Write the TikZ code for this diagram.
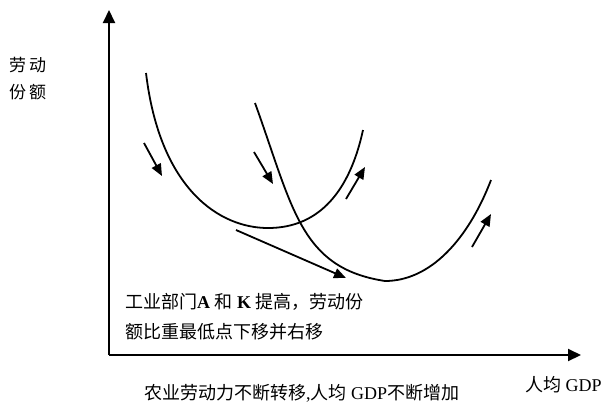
\documentclass[tikz,border=0pt]{standalone}
\usepackage{fontspec}
\setmainfont{Liberation Serif}
\newfontfamily\cjk{Noto Sans CJK SC}
\usetikzlibrary{arrows.meta}
\tikzset{
  axis/.style={line width=2pt,-{Triangle[length=13pt,width=12pt]}},
  curve/.style={line width=1.8pt},
  move/.style={line width=1.8pt,-{Triangle[length=12pt,width=10pt]}},
  lbl/.style={inner sep=0pt,font=\fontsize{18}{20}\selectfont},
  ylbl/.style={inner sep=0pt,font=\fontsize{17}{20}\selectfont},
}
\begin{document}
\begin{tikzpicture}[x=1pt,y=-1pt]
\fill[white] (0,0) rectangle (602,405);
\useasboundingbox (0,0) rectangle (602,405);
% axes
\coordinate (O) at (109,355);
\coordinate (ytip) at (109,10);
\coordinate (xtip) at (581,355);
\draw[axis] (O) -- (ytip);
\draw[axis] (O) -- (xtip);
% curves
\coordinate (c1s) at (146,73);
\coordinate (c1m) at (268,228);
\coordinate (c1e) at (363,130);
\draw[curve] (c1s) .. controls (160,190) and (220,228) .. (c1m)
  .. controls (320,228) and (350,190) .. (c1e);
\coordinate (c2s) at (255,103);
\coordinate (c2m) at (385,281);
\coordinate (c2e) at (491,180);
\draw[curve] (c2s) .. controls (293,208) and (300,268) .. (c2m)
  .. controls (430,281) and (468,240) .. (c2e);
% movement arrows
\coordinate (a1s) at (144,143); \coordinate (a1e) at (162,176);
\coordinate (a2s) at (254,152); \coordinate (a2e) at (273,184);
\coordinate (a3s) at (346,199); \coordinate (a3e) at (365,167);
\coordinate (a4s) at (472,247); \coordinate (a4e) at (491,214);
\coordinate (a5s) at (236,230); \coordinate (a5e) at (346,278);
\draw[move] (a1s) -- (a1e);
\draw[move] (a2s) -- (a2e);
\draw[move] (a3s) -- (a3e);
\draw[move] (a4s) -- (a4e);
\draw[move] (a5s) -- (a5e);
% labels
\node[ylbl,anchor=west] (yl1) at (9,65) {\cjk 劳\hspace{3pt}动};
\node[ylbl,anchor=west] (yl2) at (9,92) {\cjk 份\hspace{3pt}额};
\node[lbl,anchor=west] (b1) at (125,302) {{\cjk 工业部门}\textbf{A} {\cjk 和} \textbf{K} {\cjk 提高，劳动份}};
\node[lbl,anchor=west] (b2) at (125,332) {\cjk 额比重最低点下移并右移};
\node[lbl,anchor=west] (xl) at (525,385) {{\cjk 人均} GDP};
\node[lbl,anchor=west] (bt) at (144,393) {{\cjk 农业劳动力不断转移},{\cjk 人均} GDP{\cjk 不断增加}};
\end{tikzpicture}
\end{document}
